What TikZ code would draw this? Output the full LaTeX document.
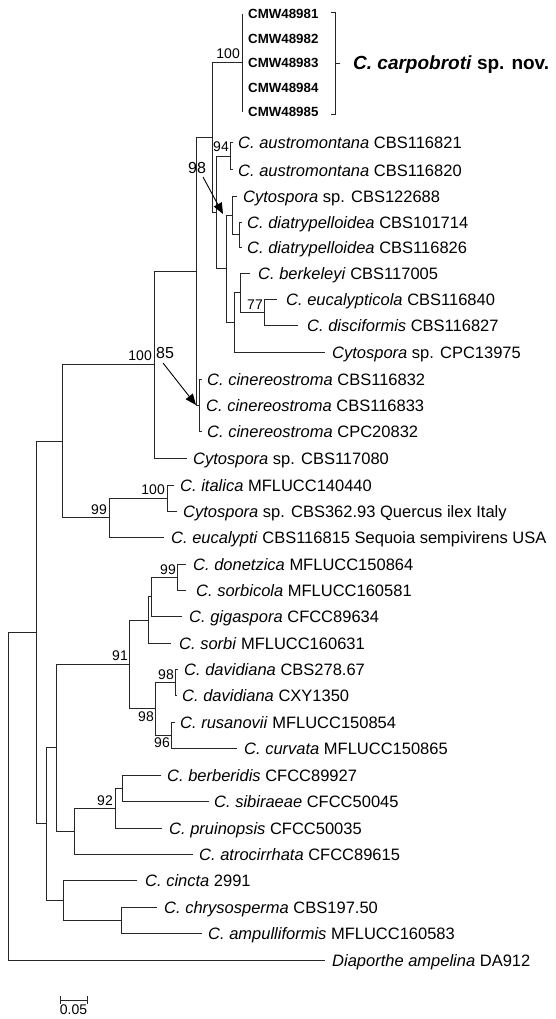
\documentclass[tikz,border=0pt]{standalone}
\usepackage{fontspec}
\setmainfont{Liberation Sans}
\usetikzlibrary{arrows.meta}
\begin{document}
\begin{tikzpicture}[x=1pt,y=-1pt,
  br/.style={draw=black!85, line width=1pt},
  leaf/.style={anchor=base west, inner sep=0pt, font=\fontsize{16.5}{18}\selectfont},
  cmw/.style={anchor=base west, inner sep=0pt, font=\fontsize{13.3}{15}\selectfont\bfseries},
  bs/.style={inner sep=0pt, font=\fontsize{14}{16}\selectfont},
  bsbig/.style={inner sep=0pt, font=\fontsize{16}{18}\selectfont},
  callout/.style={draw=black, line width=0.9pt, -{Triangle[length=11pt,width=9pt]}},
]
\useasboundingbox (0,0) rectangle (555,1019);
% tips
\foreach \n/\x/\y in {t1/242/14, t2/242/39, t3/242/63, t4/242/88, t5/242/112,
  t6/233/143, t7/233/170, t8/237/196, t9/242/222, t10/242/247, t11/250/273,
  t12/277/299, t13/298/325, t14/325/352, t15/202/379, t16/200/405, t17/202/431,
  t18/187/458, t19/174/485, t20/177/511, t21/164/537, t22/186/564, t23/186/590,
  t24/182/616, t25/171/643, t26/178/669, t27/177/695, t28/175/722, t29/237/748,
  t30/161/775, t31/209/801, t32/162/828, t33/193/854, t34/137/880, t35/157/907,
  t36/202/933, t37/325/960}
  {\coordinate (\n) at (\x,\y);}
% internal nodes
\foreach \n/\x/\y in {carp/242/63, aus/230/156.5, diat/239/234.5, n98/232/215,
  n77/264/312, berk/240/292.5, nH/234/322, nJ/226/268.5, nI/216/212.5, nG/212/137.75,
  cin/199/405, nF/196/271.4, nC100/154/364.7, ital/167/498, n99a/109/517.5, n58/62/441,
  don/177/577, nE/151/596.5, nD/148/620, dav/175/682, n96/171/735, n98b/155/708.5,
  n91/129/664, n92i/122/788, n92/115/808, berb/74/831, nC/56/747.5, chry/121/920,
  cinc/63/900, nB/46/823.75, nA/36/632, root/8/796}
  {\coordinate (\n) at (\x,\y);}
% branches
\foreach \p/\c in {root/nA, root/t37, nA/n58, nA/nB, n58/nC100, n58/n99a,
  nC100/nF, nC100/t18, nF/nG, nF/cin, nG/carp, nG/nI, carp/t1, carp/t2, carp/t3,
  carp/t4, carp/t5, nI/aus, nI/nJ, aus/t6, aus/t7, nJ/n98, nJ/nH, n98/t8, n98/diat,
  diat/t9, diat/t10, nH/berk, nH/t14, berk/t11, berk/n77, n77/t12, n77/t13,
  cin/t15, cin/t16, cin/t17, n99a/ital, n99a/t21, ital/t19, ital/t20,
  nB/nC, nB/cinc, nC/n91, nC/berb, n91/nD, n91/n98b, nD/nE, nD/t25, nE/don, nE/t24,
  don/t22, don/t23, n98b/dav, n98b/n96, dav/t26, dav/t27, n96/t28, n96/t29,
  berb/n92, berb/t33, n92/n92i, n92/t32, n92i/t30, n92i/t31,
  cinc/t34, cinc/chry, chry/t35, chry/t36}
  {\draw[br] (\p) |- (\c);}
% leaf labels
\node[cmw] (l1) at (248,19) {CMW48981};
\node[cmw] (l2) at (248,44) {CMW48982};
\node[cmw] (l3) at (248,68) {CMW48983};
\node[cmw] (l4) at (248,93) {CMW48984};
\node[cmw] (l5) at (248,117) {CMW48985};
\node[leaf] (l6) at (238,149) {\textit{C. austromontana} CBS116821};
\node[leaf] (l7) at (238,176) {\textit{C. austromontana} CBS116820};
\node[leaf] (l8) at (243,202) {\textit{Cytospora} sp. CBS122688};
\node[leaf] (l9) at (247,228) {\textit{C. diatrypelloidea} CBS101714};
\node[leaf] (l10) at (247,253) {\textit{C. diatrypelloidea} CBS116826};
\node[leaf] (l11) at (258,279) {\textit{C. berkeleyi} CBS117005};
\node[leaf] (l12) at (286,305) {\textit{C. eucalypticola} CBS116840};
\node[leaf] (l13) at (307,331) {\textit{C. disciformis} CBS116827};
\node[leaf] (l14) at (332,358) {\textit{Cytospora} sp. CPC13975};
\node[leaf] (l15) at (207,385) {\textit{C. cinereostroma} CBS116832};
\node[leaf] (l16) at (206,411) {\textit{C. cinereostroma} CBS116833};
\node[leaf] (l17) at (207,437) {\textit{C. cinereostroma} CPC20832};
\node[leaf] (l18) at (193,464) {\textit{Cytospora} sp. CBS117080};
\node[leaf] (l19) at (180,491) {\textit{C. italica} MFLUCC140440};
\node[leaf] (l20) at (183,517) {\textit{Cytospora} sp. CBS362.93 Quercus ilex Italy};
\node[leaf] (l21) at (171,543) {\textit{C. eucalypti} CBS116815 Sequoia sempivirens USA};
\node[leaf] (l22) at (193,570) {\textit{C. donetzica} MFLUCC150864};
\node[leaf] (l23) at (196,596) {\textit{C. sorbicola} MFLUCC160581};
\node[leaf] (l24) at (189,622) {\textit{C. gigaspora} CFCC89634};
\node[leaf] (l25) at (179,649) {\textit{C. sorbi} MFLUCC160631};
\node[leaf] (l26) at (184,675) {\textit{C. davidiana} CBS278.67};
\node[leaf] (l27) at (182,701) {\textit{C. davidiana} CXY1350};
\node[leaf] (l28) at (180,728) {\textit{C. rusanovii} MFLUCC150854};
\node[leaf] (l29) at (244,754) {\textit{C. curvata} MFLUCC150865};
\node[leaf] (l30) at (167,781) {\textit{C. berberidis} CFCC89927};
\node[leaf] (l31) at (214,807) {\textit{C. sibiraeae} CFCC50045};
\node[leaf] (l32) at (169,834) {\textit{C. pruinopsis} CFCC50035};
\node[leaf] (l33) at (199,860) {\textit{C. atrocirrhata} CFCC89615};
\node[leaf] (l34) at (145,886) {\textit{C. cincta} 2991};
\node[leaf] (l35) at (164,913) {\textit{C. chrysosperma} CBS197.50};
\node[leaf] (l36) at (208,939) {\textit{C. ampulliformis} MFLUCC160583};
\node[leaf] (l37) at (332,966) {\textit{Diaporthe ampelina} DA912};
% bracket and species name
\coordinate (k1) at (331,12); \coordinate (k2) at (335,12);
\coordinate (k3) at (335,114); \coordinate (k4) at (331,114);
\coordinate (k5) at (335,63); \coordinate (k6) at (340,63);
\draw[draw=black!85, line width=0.8pt] (k1) -- (k2) -- (k3) -- (k4);
\draw[draw=black!85, line width=0.8pt] (k5) -- (k6);
\node[anchor=base west, inner sep=0pt, font=\fontsize{19}{22}\selectfont\bfseries] (title) at (353,70) {\textit{C. carpobroti} sp. nov.};
% bootstrap values
\node[bs, anchor=south east] (b1) at (240,59) {100};
\node[bs, anchor=south east] (b2) at (229,152) {94};
\node[bsbig] (b3) at (197,168) {98};
\node[bs, anchor=south east] (b4) at (263,310) {77};
\node[bs, anchor=south east] (b5) at (152,361) {100};
\node[bsbig, anchor=south west] (b6) at (156,359) {85};
\node[bs, anchor=south east] (b7) at (165,495) {100};
\node[bs, anchor=south east] (b8) at (107,515) {99};
\node[bs, anchor=south east] (b9) at (176,575) {99};
\node[bs, anchor=south east] (b10) at (128,661) {91};
\node[bs, anchor=south east] (b11) at (174,680) {98};
\node[bs, anchor=north east] (b12) at (154,712) {98};
\node[bs, anchor=north east] (b13) at (170,738) {96};
\node[bs, anchor=south east] (b14) at (113,806) {92};
% callout arrows
\coordinate (s98) at (203,177); \coordinate (a98) at (223,214);
\coordinate (s85) at (163,363); \coordinate (a85) at (196,405);
\draw[callout] (s98) -- (a98);
\draw[callout] (s85) -- (a85);
% scale bar
\coordinate (sb1) at (60,1000); \coordinate (sb2) at (87,1000);
\draw[br] (sb1) -- (sb2);
\draw[br] ([yshift=-4pt]sb1) -- ([yshift=4pt]sb1);
\draw[br] ([yshift=-4pt]sb2) -- ([yshift=4pt]sb2);
\node[bs, anchor=north] (sbl) at (73.5,1005) {0.05};
\end{tikzpicture}
\end{document}
